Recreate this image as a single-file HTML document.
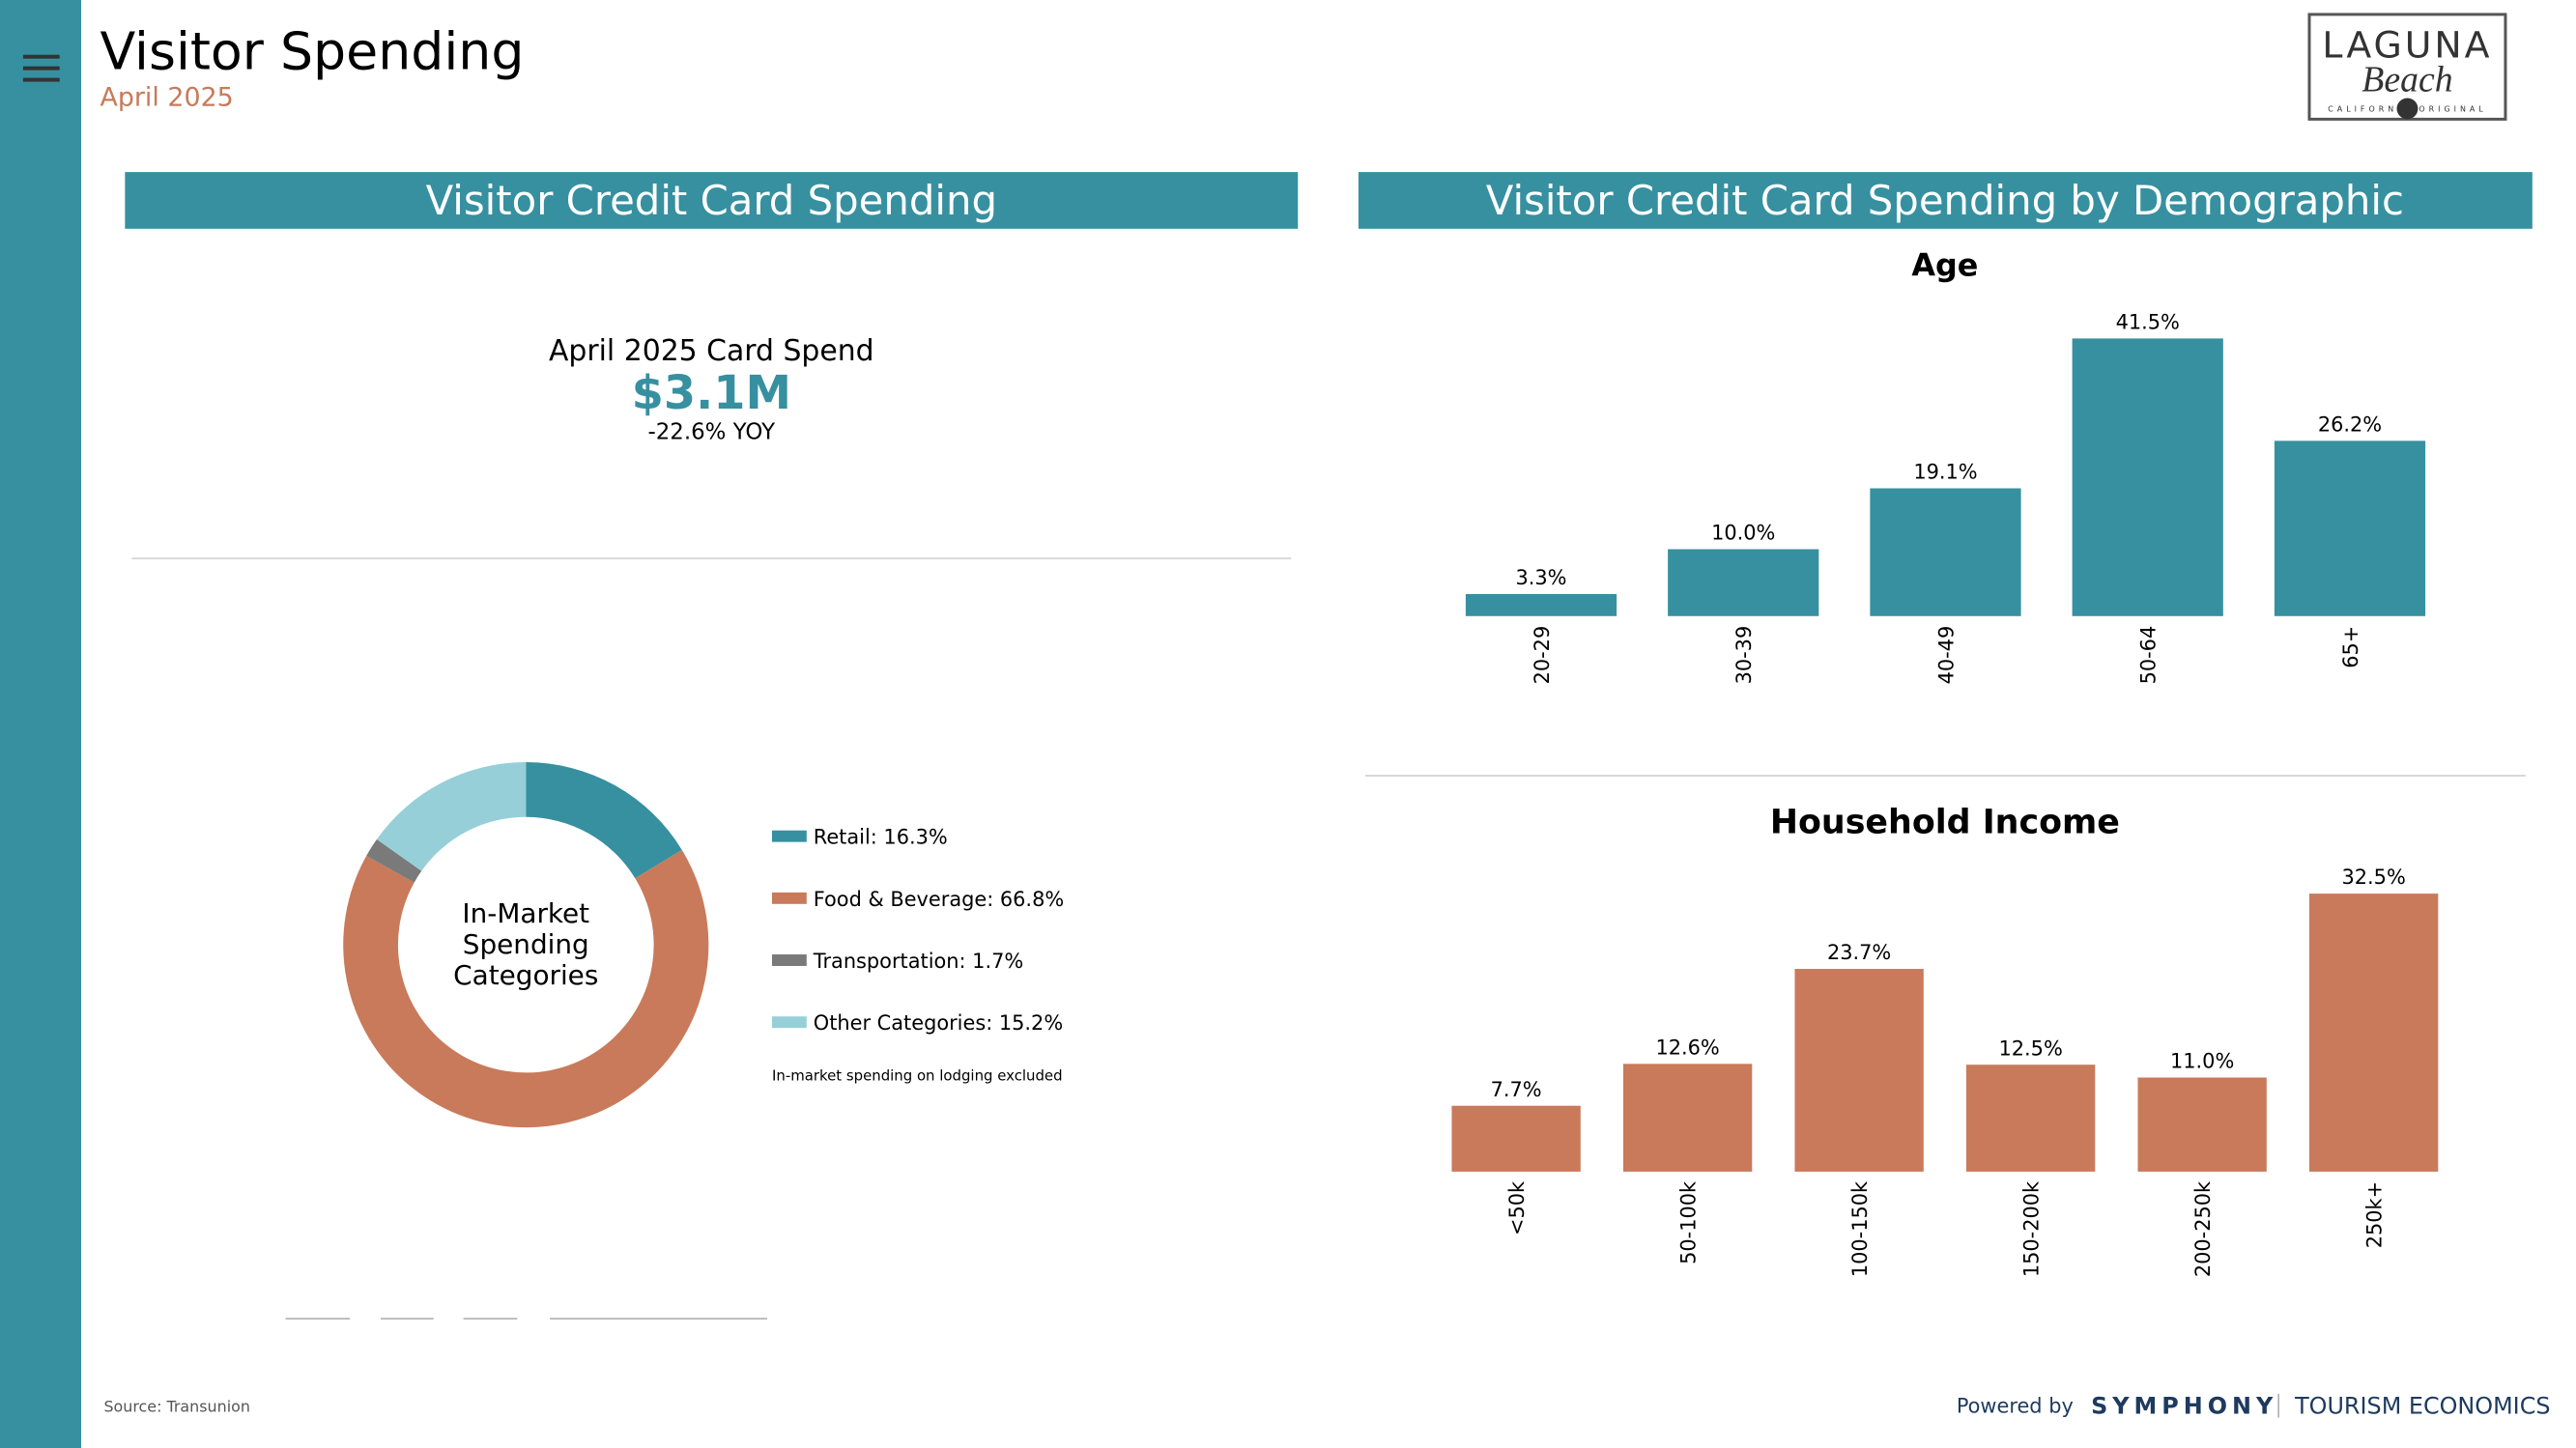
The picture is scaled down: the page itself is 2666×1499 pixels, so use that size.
<!DOCTYPE html>
<html><head><meta charset="utf-8"><style>
html,body{margin:0;padding:0;background:#fff;}
body{width:2666px;height:1499px;overflow:hidden;position:relative;font-family:"DejaVu Sans","Liberation Sans",sans-serif;}
svg{position:absolute;left:0;top:0;}
</style></head><body>
<svg id="s" width="2666" height="1499" viewBox="0 0 2666 1499" xmlns="http://www.w3.org/2000/svg" font-family="DejaVu Sans, Liberation Sans, sans-serif">
<rect x="0" y="0" width="84" height="1499" fill="#3690a0"/>
<g transform="scale(0.995)">
<g fill="#333">
<rect x="24" y="57" width="38" height="4"/><rect x="24" y="69" width="38" height="4"/><rect x="24" y="81" width="38" height="4"/>
</g>
<text x="104" y="72" font-size="54" fill="#000">Visitor Spending</text>
<text x="104" y="110" font-size="27" fill="#c87a5a">April 2025</text>
<g>
<rect x="2402" y="15" width="204" height="109" fill="#fff" stroke="#555" stroke-width="3"/>
<text x="2504" y="60" font-size="38" text-anchor="middle" fill="#333" letter-spacing="3">LAGUNA</text>
<text x="2504" y="95" font-size="38" font-style="italic" font-family="Liberation Serif, serif" text-anchor="middle" fill="#333">Beach</text>
<text x="2504" y="116" font-size="8" text-anchor="middle" fill="#333" letter-spacing="4">CALIFORNIA    ORIGINAL</text>
<circle cx="2504" cy="113" r="11" fill="#333"/>
</g>
<rect x="130" y="179" width="1220" height="59" fill="#3690a0"/>
<text x="740" y="223" font-size="42" fill="#fff" text-anchor="middle">Visitor Credit Card Spending</text>
<rect x="1413" y="179" width="1221" height="59" fill="#3690a0"/>
<text x="2023" y="223" font-size="42" fill="#fff" text-anchor="middle">Visitor Credit Card Spending by Demographic</text>
<text x="740" y="375" font-size="30" fill="#000" text-anchor="middle">April 2025 Card Spend</text>
<text x="740" y="425" font-size="48" font-weight="bold" fill="#3690a0" text-anchor="middle">$3.1M</text>
<text x="740" y="457" font-size="23" fill="#000" text-anchor="middle">-22.6% YOY</text>
<line x1="137" y1="581" x2="1343" y2="581" stroke="#d8d8d8" stroke-width="2"/>
<line x1="1420" y1="807" x2="2627" y2="807" stroke="#d8d8d8" stroke-width="2"/>
<g id="donut"></g>
<text x="547" y="960" font-size="28" text-anchor="middle" fill="#000"><tspan x="547">In-Market</tspan><tspan x="547" dy="32">Spending</tspan><tspan x="547" dy="32">Categories</tspan></text>
<g id="legend"></g>
<text x="803" y="1124" font-size="15" fill="#000">In-market spending on lodging excluded</text>
<g stroke="#bbb" stroke-width="2">
<line x1="297" y1="1372" x2="364" y2="1372"/><line x1="396" y1="1372" x2="451" y2="1372"/><line x1="482" y1="1372" x2="538" y2="1372"/><line x1="572" y1="1372" x2="798" y2="1372"/>
</g>
<text x="2023" y="287" font-size="32" font-weight="bold" text-anchor="middle" fill="#000">Age</text>
<g id="age"></g>
<text x="2023" y="867" font-size="35" font-weight="bold" text-anchor="middle" fill="#000">Household Income</text>
<g id="inc"></g>
<text x="108" y="1469" font-size="16" fill="#555">Source: Transunion</text>
<g>
<text x="2035" y="1470" font-size="21" fill="#1d3a5f">Powered by</text>
<text x="2175" y="1471" font-size="24" font-weight="bold" fill="#1d3a5f" letter-spacing="5">SYMPHONY</text>
<line x1="2370" y1="1450" x2="2370" y2="1475" stroke="#aaa" stroke-width="1.5"/>
<text x="2387" y="1471" font-size="24" fill="#1d3a5f">TOURISM ECONOMICS</text>
</g>
</g>
</svg>
<script>
const donutLabels=["Retail","Food & Beverage","Transportation","Other Categories"];
const donutValues=[16.3,66.8,1.7,15.2];
const donutColors=["#3690a0","#c97a5a","#7a7a7a","#96cfd8"];
const ageCats=["20-29","30-39","40-49","50-64","65+"];
const ageValues=[3.3,10.0,19.1,41.5,26.2];
const incCats=["<50k","50-100k","100-150k","150-200k","200-250k","250k+"];
const incValues=[7.7,12.6,23.7,12.5,11.0,32.5];
const NS="http://www.w3.org/2000/svg";
function mk(tag,attrs,parent){const e=document.createElementNS(NS,tag);for(const k in attrs)e.setAttribute(k,attrs[k]);parent.appendChild(e);return e;}
(function(){
const g=document.getElementById('donut');const cx=547,cy=983,R=190,r=133;
const total=donutValues.reduce((a,b)=>a+b,0);let a0=0;
donutValues.forEach((v,i)=>{
const a1=a0+v/total*2*Math.PI;
const p=(a,rad)=>[cx+rad*Math.sin(a),cy-rad*Math.cos(a)];
const [x0,y0]=p(a0,R),[x1,y1]=p(a1,R),[x2,y2]=p(a1,r),[x3,y3]=p(a0,r);
const big=(a1-a0)>Math.PI?1:0;
const e=mk('path',{d:`M${x0},${y0}A${R},${R} 0 ${big} 1 ${x1},${y1}L${x2},${y2}A${r},${r} 0 ${big} 0 ${x3},${y3}Z`,fill:donutColors[i]},g);


a0=a1;});
const lg=document.getElementById('legend');
donutLabels.forEach((l,i)=>{
const y=870+i*64.5;
const gg=mk('g',{},lg);


mk('rect',{x:803,y:y-6,width:36,height:12,fill:donutColors[i]},gg);
const t=mk('text',{x:846,y:y+8,'font-size':21,fill:'#000'},gg);t.textContent=l+': '+donutValues[i].toFixed(1)+'%';
});
})();
function bars(id,cats,vals,x0,step,bw,base,pxPer,color,prefix){
const g=document.getElementById(id);
cats.forEach((c,i)=>{
const cx=x0+i*step,h=vals[i]*pxPer;
const b=mk('rect',{x:cx-bw/2,y:base-h,width:bw,height:h,fill:color},g);


const t=mk('text',{x:cx,y:base-h-10,'font-size':21,'text-anchor':'middle',fill:'#000'},g);


t.textContent=vals[i].toFixed(1)+'%';
const xl=mk('text',{x:0,y:0,'font-size':21,'text-anchor':'end',fill:'#000',transform:`translate(${cx+8},${base+10}) rotate(-90)`},g);


xl.textContent=c;
});}
bars('age',ageCats,ageValues,1603,210.3,157,641,6.96,'#3690a0','age');
bars('inc',incCats,incValues,1577,178.4,134,1219,8.9,'#c97a5a','income');
</script>
</body></html>
